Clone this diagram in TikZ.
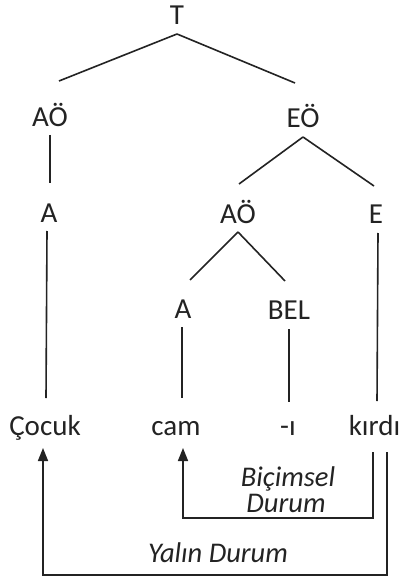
\documentclass[tikz,border=0pt]{standalone}
\usepackage{fontspec}
\setmainfont{Carlito}
\usetikzlibrary{arrows.meta,calc}
\definecolor{ink}{RGB}{35,35,35}
\begin{document}
\begin{tikzpicture}[x=1pt,y=-1pt,
  lbl/.style={anchor=base,inner sep=0pt,text=ink,font=\fontsize{29}{32}\selectfont},
  ilbl/.style={lbl,font=\fontsize{28.5}{32}\selectfont\itshape},
  edge/.style={draw=ink,line width=1.6pt},
  arr/.style={edge,-{Triangle[width=10pt,length=13pt]}}]
\useasboundingbox (0,0) rectangle (401,585);
\fill[white] (0,0) rectangle (401,585);
% nodes (baseline positions)
\node[lbl] (T) at (177,25) {T};
\node[lbl] (AO1) at (50,127) {AÖ};
\node[lbl] (EO) at (303,128) {EÖ};
\node[lbl] (A1) at (49,222) {A};
\node[lbl] (AO2) at (238,223) {AÖ};
\node[lbl] (E) at (376,223) {E};
\node[lbl] (A2) at (183,318) {A};
\node[lbl] (BEL) at (289,319) {BEL};
\node[lbl] (cocuk) at (45,435) {Çocuk};
\node[lbl] (cam) at (176,435) {cam};
\node[lbl] (i) at (288,435) {-ı};
\node[lbl] (kirdi) at (374.5,435) {kırdı};
\node[ilbl] (bic) at (288,486) {Biçimsel};
\node[ilbl] (dur) at (286,512) {Durum};
\node[ilbl] (yalin) at (218,562) {Yalın Durum};
% tree edges
\draw[edge] ($(T.base)+(0,9)$) -- ($(AO1.base)+(9,-46)$);
\draw[edge] ($(T.base)+(0,9)$) -- ($(EO.base)+(-8,-45)$);
\draw[edge] ($(AO1.base)+(0,8)$) -- ($(A1.base)+(1,-39)$);
\draw[edge] ($(EO.base)+(0,9)$) -- ($(AO2.base)+(1,-39)$);
\draw[edge] ($(EO.base)+(0,9)$) -- ($(E.base)+(-2,-37)$);
\draw[edge] ($(A1.base)+(-2,9)$) -- ($(cocuk.base)+(1,-37)$);
\draw[edge] ($(AO2.base)+(0,9)$) -- ($(A2.base)+(7,-38)$);
\draw[edge] ($(AO2.base)+(0,9)$) -- ($(BEL.base)+(-4,-38)$);
\draw[edge] ($(E.base)+(2,10)$) -- ($(kirdi.base)+(2.5,-34)$);
\draw[edge] ($(A2.base)+(-1,9)$) -- ($(cam.base)+(6,-37)$);
\draw[edge] ($(BEL.base)+(0,10)$) -- ($(i.base)+(1,-33)$);
% case arrows
\draw[arr] ($(kirdi.base)+(-1.5,17)$) |- ($(cam.base)+(7,83)$) -- ($(cam.base)+(7,13)$);
\draw[arr] ($(kirdi.base)+(12.5,17)$) |- ($(cocuk.base)+(-2,140)$) -- ($(cocuk.base)+(-2,13)$);
\end{tikzpicture}
\end{document}
